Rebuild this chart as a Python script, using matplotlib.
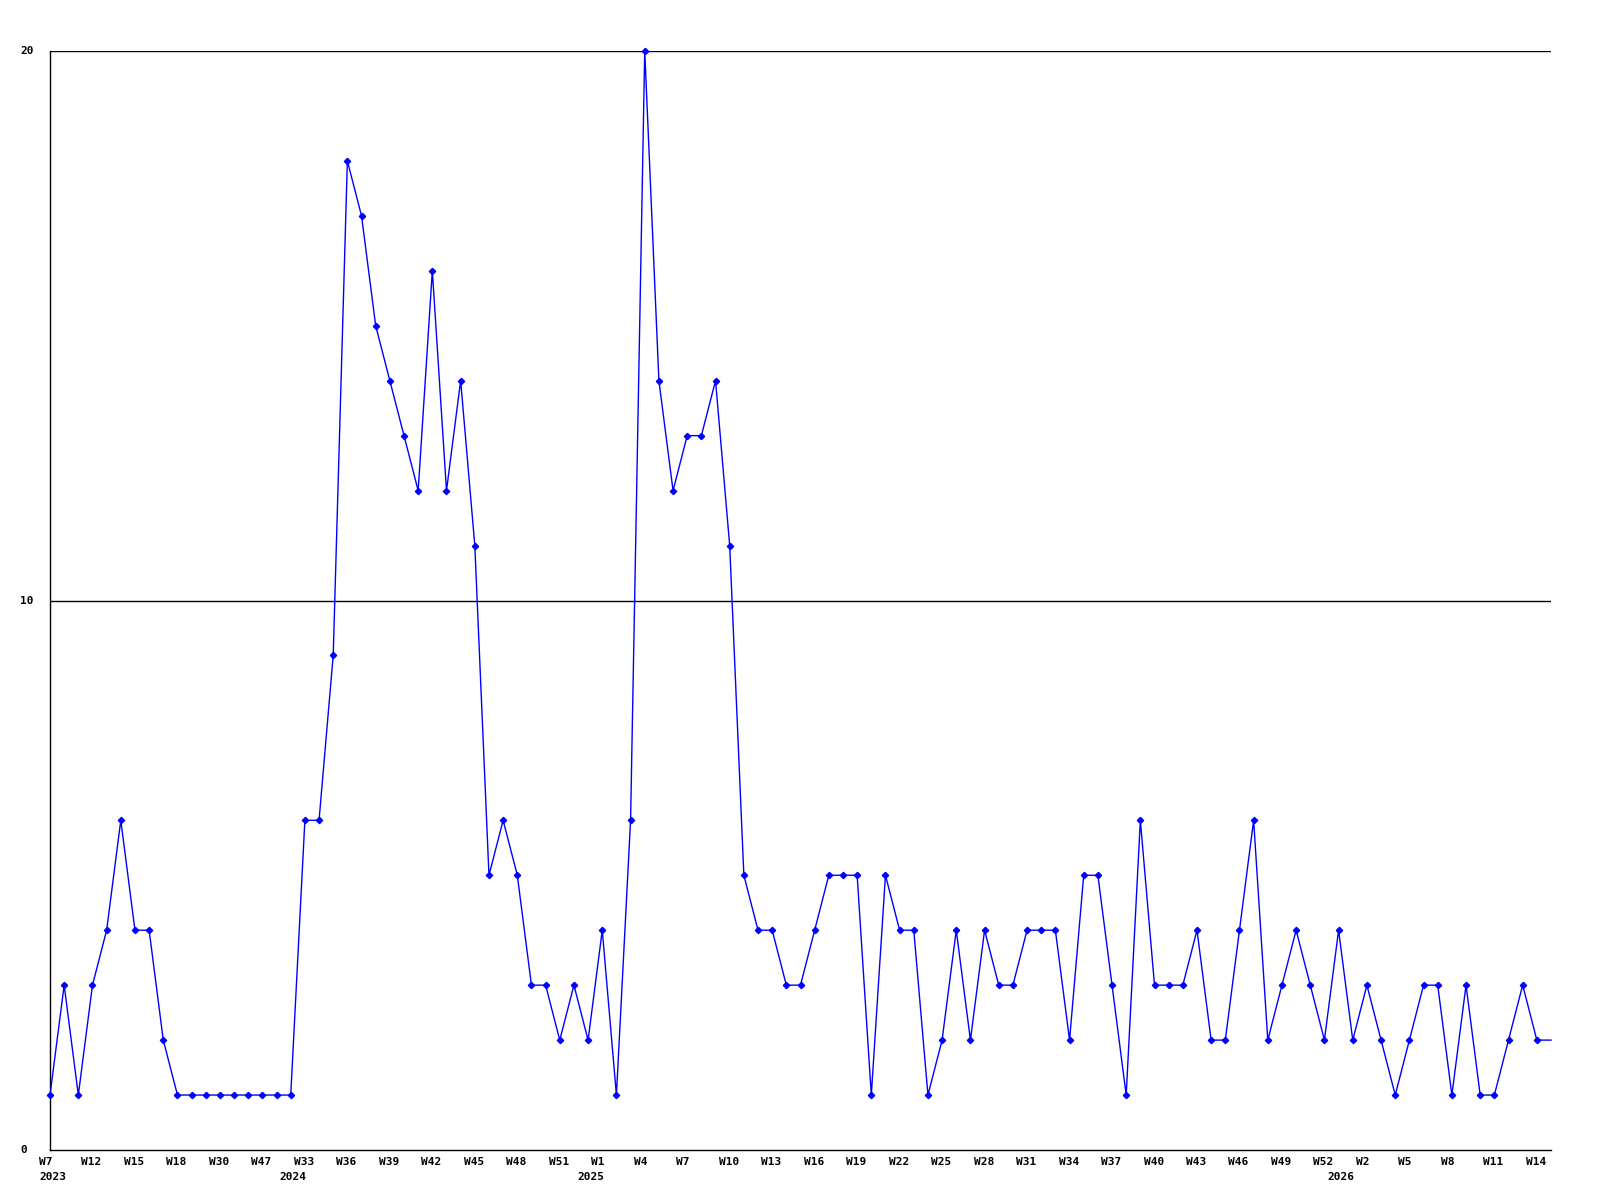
import matplotlib
matplotlib.use('Agg')
import matplotlib.pyplot as plt
import matplotlib.transforms as mtransforms

# weekly counts (last value runs to the right edge, no marker)
values = [1, 3, 1, 3, 4, 6, 4, 4, 2, 1,
          1, 1, 1, 1, 1, 1, 1, 1, 6, 6,
          9, 18, 17, 15, 14, 13, 12, 16, 12, 14,
          11, 5, 6, 5, 3, 3, 2, 3, 2, 4,
          1, 6, 20, 14, 12, 13, 13, 14, 11, 5,
          4, 4, 3, 3, 4, 5, 5, 5, 1, 5,
          4, 4, 1, 2, 4, 2, 4, 3, 3, 4,
          4, 4, 2, 5, 5, 3, 1, 6, 3, 3,
          3, 4, 2, 2, 4, 6, 2, 3, 4, 3,
          2, 4, 2, 3, 2, 1, 2, 3, 3, 1,
          3, 1, 1, 2, 3, 2, 2]

week_labels = ['W7', 'W12', 'W15', 'W18', 'W30', 'W47', 'W33', 'W36', 'W39', 'W42',
               'W45', 'W48', 'W51', 'W1', 'W4', 'W7', 'W10', 'W13', 'W16', 'W19',
               'W22', 'W25', 'W28', 'W31', 'W34', 'W37', 'W40', 'W43', 'W46', 'W49',
               'W52', 'W2', 'W5', 'W8', 'W11', 'W14']
week_pos = list(range(0, 106, 3))

years = ['2023', '2024', '2025', '2026']
year_pos = [0, 17, 38, 91]

y_ticks = [0, 10, 20]

fig = plt.figure(figsize=(16, 12), dpi=100)
ax = fig.add_axes([50 / 1600, 50 / 1200, 1501 / 1600, 1099 / 1200])

x = list(range(len(values)))
ax.plot(x, values, color='#0000ff', linewidth=1.0, marker='D', markersize=3.2,
        markevery=list(range(len(values) - 1)), clip_on=False, zorder=3)

ax.set_xlim(0, len(values) - 1)
ax.set_ylim(0, 20)

for s in ['top', 'right']:
    ax.spines[s].set_visible(False)
for s in ['left', 'bottom']:
    ax.spines[s].set_linewidth(1.0)
    ax.spines[s].set_color('black')

for t in y_ticks[1:]:
    ax.axhline(t, color='black', linewidth=1.0, zorder=1)

ax.set_xticks([])
ax.set_yticks([])

font = dict(family='DejaVu Sans Mono', fontweight='bold', fontsize=8, color='black')

# y labels, left-aligned near the figure edge
ytrans = mtransforms.blended_transform_factory(fig.transFigure, ax.transData)
for t in y_ticks:
    ax.text(20 / 1600, t, str(t), transform=ytrans, ha='left', va='center', **font)

off = mtransforms.ScaledTranslation(-11 / 100, 0, fig.dpi_scale_trans)
xtrans = mtransforms.blended_transform_factory(ax.transData, fig.transFigure) + off
for p, lab in zip(week_pos, week_labels):
    ax.text(p, 1 - 1162 / 1200, lab, transform=xtrans, ha='left', va='center', **font)
for p, lab in zip(year_pos, years):
    ax.text(p, 1 - 1177 / 1200, lab, transform=xtrans, ha='left', va='center', **font)

fig.savefig('out.png', dpi=100)
